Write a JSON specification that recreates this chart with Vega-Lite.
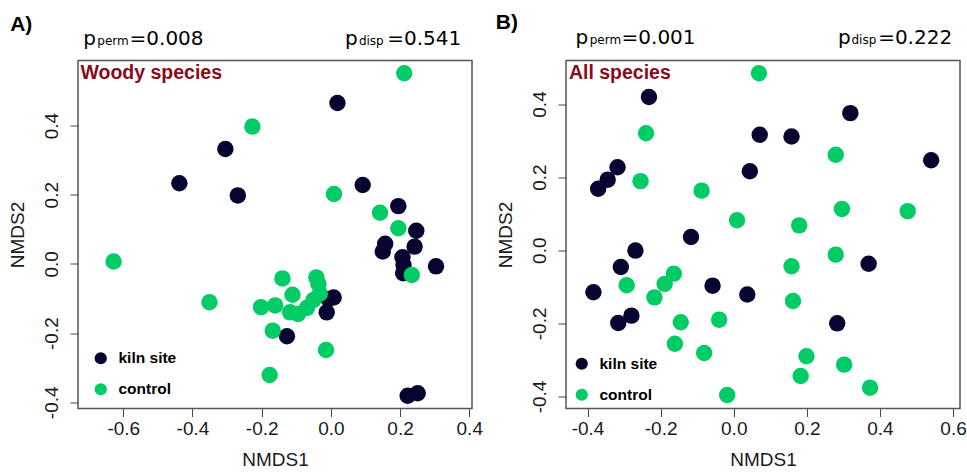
{
  "$schema": "https://vega.github.io/schema/vega-lite/v6.json",
  "background": "white",
  "padding": {"left": 7, "top": 10.5, "right": 5, "bottom": 5},
  "bounds": "flush",
  "spacing": 94,
  "datasets": {
    "woody": [
      {"NMDS1": 0.019, "NMDS2": 0.465, "site": "kiln site"},
      {"NMDS1": -0.305, "NMDS2": 0.332, "site": "kiln site"},
      {"NMDS1": -0.438, "NMDS2": 0.233, "site": "kiln site"},
      {"NMDS1": -0.269, "NMDS2": 0.198, "site": "kiln site"},
      {"NMDS1": 0.092, "NMDS2": 0.228, "site": "kiln site"},
      {"NMDS1": 0.195, "NMDS2": 0.167, "site": "kiln site"},
      {"NMDS1": 0.247, "NMDS2": 0.096, "site": "kiln site"},
      {"NMDS1": 0.150, "NMDS2": 0.036, "site": "kiln site"},
      {"NMDS1": 0.157, "NMDS2": 0.058, "site": "kiln site"},
      {"NMDS1": 0.242, "NMDS2": 0.050, "site": "kiln site"},
      {"NMDS1": 0.207, "NMDS2": 0.019, "site": "kiln site"},
      {"NMDS1": 0.210, "NMDS2": -0.003, "site": "kiln site"},
      {"NMDS1": 0.209, "NMDS2": -0.027, "site": "kiln site"},
      {"NMDS1": 0.304, "NMDS2": -0.007, "site": "kiln site"},
      {"NMDS1": -0.007, "NMDS2": -0.101, "site": "kiln site"},
      {"NMDS1": 0.008, "NMDS2": -0.097, "site": "kiln site"},
      {"NMDS1": -0.012, "NMDS2": -0.140, "site": "kiln site"},
      {"NMDS1": -0.127, "NMDS2": -0.209, "site": "kiln site"},
      {"NMDS1": 0.222, "NMDS2": -0.381, "site": "kiln site"},
      {"NMDS1": 0.251, "NMDS2": -0.374, "site": "kiln site"},
      {"NMDS1": 0.212, "NMDS2": 0.551, "site": "control"},
      {"NMDS1": -0.227, "NMDS2": 0.397, "site": "control"},
      {"NMDS1": 0.009, "NMDS2": 0.202, "site": "control"},
      {"NMDS1": 0.142, "NMDS2": 0.148, "site": "control"},
      {"NMDS1": 0.195, "NMDS2": 0.103, "site": "control"},
      {"NMDS1": -0.628, "NMDS2": 0.007, "site": "control"},
      {"NMDS1": 0.234, "NMDS2": -0.032, "site": "control"},
      {"NMDS1": -0.140, "NMDS2": -0.042, "site": "control"},
      {"NMDS1": -0.042, "NMDS2": -0.039, "site": "control"},
      {"NMDS1": -0.036, "NMDS2": -0.058, "site": "control"},
      {"NMDS1": -0.111, "NMDS2": -0.089, "site": "control"},
      {"NMDS1": -0.202, "NMDS2": -0.125, "site": "control"},
      {"NMDS1": -0.161, "NMDS2": -0.120, "site": "control"},
      {"NMDS1": -0.118, "NMDS2": -0.140, "site": "control"},
      {"NMDS1": -0.095, "NMDS2": -0.145, "site": "control"},
      {"NMDS1": -0.069, "NMDS2": -0.127, "site": "control"},
      {"NMDS1": -0.050, "NMDS2": -0.104, "site": "control"},
      {"NMDS1": -0.032, "NMDS2": -0.086, "site": "control"},
      {"NMDS1": -0.168, "NMDS2": -0.193, "site": "control"},
      {"NMDS1": -0.014, "NMDS2": -0.249, "site": "control"},
      {"NMDS1": -0.351, "NMDS2": -0.111, "site": "control"},
      {"NMDS1": -0.177, "NMDS2": -0.321, "site": "control"}
    ],
    "all": [
      {"NMDS1": -0.232, "NMDS2": 0.419, "site": "kiln site"},
      {"NMDS1": 0.319, "NMDS2": 0.375, "site": "kiln site"},
      {"NMDS1": 0.071, "NMDS2": 0.316, "site": "kiln site"},
      {"NMDS1": 0.158, "NMDS2": 0.311, "site": "kiln site"},
      {"NMDS1": 0.540, "NMDS2": 0.246, "site": "kiln site"},
      {"NMDS1": 0.044, "NMDS2": 0.216, "site": "kiln site"},
      {"NMDS1": -0.318, "NMDS2": 0.227, "site": "kiln site"},
      {"NMDS1": -0.345, "NMDS2": 0.193, "site": "kiln site"},
      {"NMDS1": -0.371, "NMDS2": 0.168, "site": "kiln site"},
      {"NMDS1": -0.117, "NMDS2": 0.036, "site": "kiln site"},
      {"NMDS1": -0.269, "NMDS2": -0.001, "site": "kiln site"},
      {"NMDS1": 0.369, "NMDS2": -0.037, "site": "kiln site"},
      {"NMDS1": -0.309, "NMDS2": -0.046, "site": "kiln site"},
      {"NMDS1": -0.384, "NMDS2": -0.115, "site": "kiln site"},
      {"NMDS1": -0.058, "NMDS2": -0.097, "site": "kiln site"},
      {"NMDS1": 0.037, "NMDS2": -0.121, "site": "kiln site"},
      {"NMDS1": -0.280, "NMDS2": -0.179, "site": "kiln site"},
      {"NMDS1": -0.316, "NMDS2": -0.199, "site": "kiln site"},
      {"NMDS1": 0.283, "NMDS2": -0.200, "site": "kiln site"},
      {"NMDS1": 0.069, "NMDS2": 0.484, "site": "control"},
      {"NMDS1": -0.240, "NMDS2": 0.320, "site": "control"},
      {"NMDS1": 0.279, "NMDS2": 0.261, "site": "control"},
      {"NMDS1": -0.255, "NMDS2": 0.189, "site": "control"},
      {"NMDS1": -0.088, "NMDS2": 0.163, "site": "control"},
      {"NMDS1": 0.296, "NMDS2": 0.113, "site": "control"},
      {"NMDS1": 0.476, "NMDS2": 0.107, "site": "control"},
      {"NMDS1": 0.009, "NMDS2": 0.082, "site": "control"},
      {"NMDS1": 0.179, "NMDS2": 0.068, "site": "control"},
      {"NMDS1": 0.279, "NMDS2": -0.012, "site": "control"},
      {"NMDS1": 0.158, "NMDS2": -0.044, "site": "control"},
      {"NMDS1": -0.164, "NMDS2": -0.064, "site": "control"},
      {"NMDS1": -0.189, "NMDS2": -0.092, "site": "control"},
      {"NMDS1": -0.293, "NMDS2": -0.096, "site": "control"},
      {"NMDS1": -0.217, "NMDS2": -0.129, "site": "control"},
      {"NMDS1": 0.162, "NMDS2": -0.139, "site": "control"},
      {"NMDS1": -0.145, "NMDS2": -0.197, "site": "control"},
      {"NMDS1": -0.040, "NMDS2": -0.190, "site": "control"},
      {"NMDS1": -0.161, "NMDS2": -0.256, "site": "control"},
      {"NMDS1": -0.081, "NMDS2": -0.281, "site": "control"},
      {"NMDS1": 0.199, "NMDS2": -0.290, "site": "control"},
      {"NMDS1": 0.302, "NMDS2": -0.313, "site": "control"},
      {"NMDS1": 0.183, "NMDS2": -0.344, "site": "control"},
      {"NMDS1": 0.373, "NMDS2": -0.376, "site": "control"},
      {"NMDS1": -0.018, "NMDS2": -0.396, "site": "control"}
    ],
    "notesA": [
      {"kind": "panel", "label": "A)", "NMDS1": -0.927, "NMDS2": 0.674},
      {"kind": "main", "label": "p", "NMDS1": -0.716, "NMDS2": 0.634},
      {"kind": "sub", "label": "perm", "NMDS1": -0.675, "NMDS2": 0.634},
      {"kind": "main", "label": "=0.008", "NMDS1": -0.582, "NMDS2": 0.634},
      {"kind": "main", "label": "p", "NMDS1": 0.041, "NMDS2": 0.634},
      {"kind": "sub", "label": "disp", "NMDS1": 0.081, "NMDS2": 0.634},
      {"kind": "main", "label": "=0.541", "NMDS1": 0.163, "NMDS2": 0.634},
      {"kind": "group", "label": "Woody species", "NMDS1": -0.724, "NMDS2": 0.535}
    ],
    "notesB": [
      {"kind": "panel", "label": "B)", "NMDS1": -0.651, "NMDS2": 0.605},
      {"kind": "main", "label": "p", "NMDS1": -0.433, "NMDS2": 0.564},
      {"kind": "sub", "label": "perm", "NMDS1": -0.394, "NMDS2": 0.564},
      {"kind": "main", "label": "=0.001", "NMDS1": -0.307, "NMDS2": 0.564},
      {"kind": "main", "label": "p", "NMDS1": 0.285, "NMDS2": 0.564},
      {"kind": "sub", "label": "disp", "NMDS1": 0.322, "NMDS2": 0.564},
      {"kind": "main", "label": "=0.222", "NMDS1": 0.395, "NMDS2": 0.564},
      {"kind": "group", "label": "All species", "NMDS1": -0.451, "NMDS2": 0.469}
    ]
  },
  "config": {
    "view": {"stroke": "#555555", "strokeWidth": 1.5},
    "axis": {
      "grid": false, "domain": false, "tickSize": 8, "tickColor": "#444444", "tickWidth": 1,
      "labelFont": "Liberation Sans", "labelFontSize": 19, "labelColor": "#1a1a1a",
      "titleFont": "Liberation Sans", "titleFontSize": 19, "titleFontWeight": "normal", "titleColor": "#1a1a1a",
      "labelFlush": false, "labelOverlap": false, "labelPadding": 3, "titlePadding": 12,
      "labelExpr": "replace(format(datum.value, '.1f'), '\u2212', '-')"
    },
    "axisY": {"labelAngle": 270, "labelAlign": "center", "labelBaseline": "bottom", "labelPadding": 8.5, "titlePadding": 15},
    "legend": {
      "orient": "none", "title": null, "padding": 0,
      "labelFont": "Liberation Sans", "labelFontWeight": "bold", "labelFontSize": 15.5, "labelColor": "black",
      "symbolType": "circle", "symbolSize": 150, "symbolOpacity": 1, "symbolStrokeWidth": 0,
      "rowPadding": 14, "labelOffset": 10
    },
    "text": {"align": "left", "baseline": "alphabetic"}
  },
  "resolve": {"scale": {"color": "independent"}, "legend": {"color": "independent"}},
  "hconcat": [
    {
      "width": 394, "height": 348,
      "encoding": {
        "x": {"field": "NMDS1", "type": "quantitative", "title": "NMDS1", "scale": {"domain": [-0.731, 0.408], "nice": false, "zero": false}, "axis": {"values": [-0.6, -0.4, -0.2, 0, 0.2, 0.4]}},
        "y": {"field": "NMDS2", "type": "quantitative", "title": "NMDS2", "scale": {"domain": [-0.418, 0.588], "nice": false, "zero": false}, "axis": {"values": [-0.4, -0.2, 0, 0.2, 0.4]}}
      },
      "layer": [
        {
          "data": {"name": "woody"},
          "mark": {"type": "point", "filled": true, "opacity": 1, "size": 270, "strokeWidth": 0},
          "encoding": {
            "color": {"field": "site", "type": "nominal", "scale": {"domain": ["kiln site", "control"], "range": ["#05052f", "#00cc66"]}, "legend": {"orient": "none", "legendX": 15, "legendY": 290}}
          }
        },
        {
          "data": {"name": "notesA"},
          "transform": [{"filter": "datum.kind === 'panel'"}],
          "mark": {"type": "text", "font": "Liberation Sans", "fontWeight": "bold", "fontSize": 21, "color": "black"},
          "encoding": {"text": {"field": "label"}}
        },
        {
          "data": {"name": "notesA"},
          "transform": [{"filter": "datum.kind === 'main'"}],
          "mark": {"type": "text", "font": "DejaVu Sans", "fontSize": 20, "color": "black"},
          "encoding": {"text": {"field": "label"}}
        },
        {
          "data": {"name": "notesA"},
          "transform": [{"filter": "datum.kind === 'sub'"}],
          "mark": {"type": "text", "font": "DejaVu Sans", "fontSize": 12, "color": "black"},
          "encoding": {"text": {"field": "label"}}
        },
        {
          "data": {"name": "notesA"},
          "transform": [{"filter": "datum.kind === 'group'"}],
          "mark": {"type": "text", "font": "Liberation Sans", "fontWeight": "bold", "fontSize": 19.5, "color": "#8b0a1a"},
          "encoding": {"text": {"field": "label"}}
        }
      ]
    },
    {
      "width": 394, "height": 348,
      "encoding": {
        "x": {"field": "NMDS1", "type": "quantitative", "title": "NMDS1", "scale": {"domain": [-0.459, 0.619], "nice": false, "zero": false}, "axis": {"values": [-0.4, -0.2, 0, 0.2, 0.4, 0.6]}},
        "y": {"field": "NMDS2", "type": "quantitative", "title": "NMDS2", "scale": {"domain": [-0.433, 0.519], "nice": false, "zero": false}, "axis": {"values": [-0.4, -0.2, 0, 0.2, 0.4]}}
      },
      "layer": [
        {
          "data": {"name": "all"},
          "mark": {"type": "point", "filled": true, "opacity": 1, "size": 270, "strokeWidth": 0},
          "encoding": {
            "color": {"field": "site", "type": "nominal", "scale": {"domain": ["kiln site", "control"], "range": ["#05052f", "#00cc66"]}, "legend": {"orient": "none", "legendX": 8, "legendY": 295.5}}
          }
        },
        {
          "data": {"name": "notesB"},
          "transform": [{"filter": "datum.kind === 'panel'"}],
          "mark": {"type": "text", "font": "Liberation Sans", "fontWeight": "bold", "fontSize": 21, "color": "black"},
          "encoding": {"text": {"field": "label"}}
        },
        {
          "data": {"name": "notesB"},
          "transform": [{"filter": "datum.kind === 'main'"}],
          "mark": {"type": "text", "font": "DejaVu Sans", "fontSize": 20, "color": "black"},
          "encoding": {"text": {"field": "label"}}
        },
        {
          "data": {"name": "notesB"},
          "transform": [{"filter": "datum.kind === 'sub'"}],
          "mark": {"type": "text", "font": "DejaVu Sans", "fontSize": 12, "color": "black"},
          "encoding": {"text": {"field": "label"}}
        },
        {
          "data": {"name": "notesB"},
          "transform": [{"filter": "datum.kind === 'group'"}],
          "mark": {"type": "text", "font": "Liberation Sans", "fontWeight": "bold", "fontSize": 19.5, "color": "#8b0a1a"},
          "encoding": {"text": {"field": "label"}}
        }
      ]
    }
  ]
}
